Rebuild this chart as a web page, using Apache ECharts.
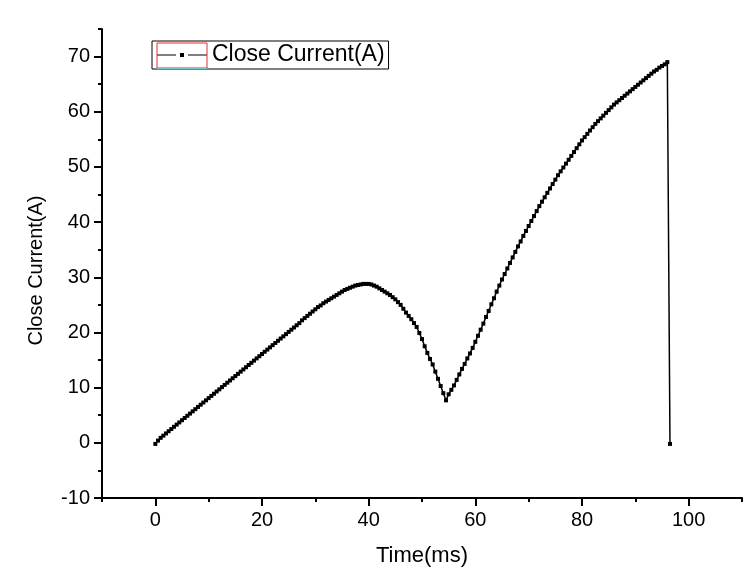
<!DOCTYPE html>
<html>
<head>
<meta charset="utf-8">
<script src="https://cdn.jsdelivr.net/npm/echarts@6/dist/echarts.min.js"></script>
<style>html,body{margin:0;padding:0;background:#fff;}#c{width:754px;height:582px;}</style>
</head>
<body>
<div id="c"></div>
<script>
const seriesName = 'Close Current(A)';
const xTitle = 'Time(ms)';
const yTitle = 'Close Current(A)';
const xLabelValues = [0, 20, 40, 60, 80, 100];
const yLabelValues = [-10, 0, 10, 20, 30, 40, 50, 60, 70];
const timeMs = [
  0,0.5,1,1.5,2,2.5,3,3.5,4,4.5,5,5.5,6,6.5,7,7.5,8,8.5,9,9.5,
  10,10.5,11,11.5,12,12.5,13,13.5,14,14.5,15,15.5,16,16.5,17,17.5,18,18.5,19,19.5,
  20,20.5,21,21.5,22,22.5,23,23.5,24,24.5,25,25.5,26,26.5,27,27.5,28,28.5,29,29.5,
  30,30.5,31,31.5,32,32.5,33,33.5,34,34.5,35,35.5,36,36.5,37,37.5,38,38.5,39,39.5,
  40,40.5,41,41.5,42,42.5,43,43.5,44,44.5,45,45.5,46,46.5,47,47.5,48,48.5,49,49.5,
  50,50.5,51,51.5,52,52.5,53,53.5,54,54.5,55,55.5,56,56.5,57,57.5,58,58.5,59,59.5,
  60,60.5,61,61.5,62,62.5,63,63.5,64,64.5,65,65.5,66,66.5,67,67.5,68,68.5,69,69.5,
  70,70.5,71,71.5,72,72.5,73,73.5,74,74.5,75,75.5,76,76.5,77,77.5,78,78.5,79,79.5,
  80,80.5,81,81.5,82,82.5,83,83.5,84,84.5,85,85.5,86,86.5,87,87.5,88,88.5,89,89.5,
  90,90.5,91,91.5,92,92.5,93,93.5,94,94.5,95,95.5,96,96.5
];
const closeCurrent = [
  -0.2,0.4,0.9,1.3,1.7,2.1,2.5,2.9,3.3,3.7,4.1,4.5,4.9,5.3,5.7,6.1,6.5,6.9,7.3,7.7,
  8.1,8.5,8.9,9.3,9.7,10.1,10.5,10.9,11.3,11.7,12.1,12.5,12.9,13.3,13.7,14.1,14.5,14.9,15.3,15.7,
  16.1,16.5,16.9,17.3,17.7,18.1,18.5,18.9,19.3,19.7,20.1,20.5,20.9,21.3,21.7,22.2,22.6,23.0,23.4,23.8,
  24.2,24.6,24.9,25.3,25.6,25.9,26.2,26.5,26.8,27.1,27.4,27.7,27.9,28.1,28.3,28.5,28.6,28.7,28.8,28.8,
  28.8,28.7,28.5,28.3,28.0,27.7,27.4,27.1,26.8,26.4,26.0,25.5,25.0,24.3,23.6,23.0,22.4,21.7,21.0,19.9,
  18.8,17.5,16.3,15.2,14.2,12.9,11.6,10.3,9.0,7.7,8.8,9.6,10.4,11.4,12.4,13.4,14.3,15.3,16.2,17.2,
  18.3,19.4,20.5,21.6,22.8,23.9,25.1,26.2,27.4,28.5,29.6,30.6,31.6,32.6,33.6,34.6,35.6,36.5,37.5,38.4,
  39.3,40.2,41.1,42.0,42.9,43.7,44.5,45.3,46.1,46.9,47.7,48.5,49.2,49.9,50.6,51.3,52.0,52.7,53.4,54.1,
  54.8,55.4,56.0,56.6,57.2,57.8,58.3,58.8,59.3,59.8,60.3,60.8,61.3,61.7,62.1,62.5,62.9,63.3,63.7,64.1,
  64.5,64.9,65.3,65.7,66.1,66.5,66.9,67.3,67.6,68.0,68.3,68.6,69.0,-0.2
];

const chart = echarts.init(document.getElementById('c'), null, {renderer: 'canvas'});
const font = 'Arial, "Liberation Sans", sans-serif';
const axisBase = {
  type: 'value',
  splitLine: {show: false},
  axisLine: {show: true, onZero: false, lineStyle: {color: '#000', width: 2}}
};
chart.setOption({
  animation: false,
  backgroundColor: '#fff',
  textStyle: {fontFamily: font, color: '#000'},
  grid: {left: 102, right: 12, top: 29, bottom: 84, containLabel: false},
  legend: {
    left: 152, top: 41,
    padding: [2, 4, 2, 5],
    borderColor: '#000', borderWidth: 1, borderRadius: 0,
    itemWidth: 50, itemHeight: 4,
    icon: 'path://M0,1.5H19V2.5H0Z M23,0H27V4H23Z M31,1.5H50V2.5H31Z',
    data: [{name: seriesName, itemStyle: {color: '#000'}}],
    textStyle: {fontFamily: font, fontSize: 23, color: '#000', lineHeight: 24}
  },
  xAxis: [
    Object.assign({}, axisBase, {
      min: -10, max: 110, interval: 10, position: 'bottom',
      name: xTitle, nameLocation: 'middle', nameGap: 47,
      nameTextStyle: {fontFamily: font, fontSize: 22, color: '#000'},
      axisTick: {show: true, inside: false, length: 4, lineStyle: {color: '#000', width: 2}},
      axisLabel: {customValues: xLabelValues, margin: 12, fontFamily: font, fontSize: 20, color: '#000'}
    }),
    Object.assign({}, axisBase, {
      min: -10, max: 110, interval: 10, position: 'bottom',
      axisLine: {show: false, onZero: false},
      axisTick: {show: true, customValues: xLabelValues, inside: false, length: 8, lineStyle: {color: '#000', width: 2}},
      axisLabel: {show: false}
    })
  ],
  yAxis: [
    Object.assign({}, axisBase, {
      min: -10, max: 75, interval: 5, position: 'left',
      name: yTitle, nameLocation: 'middle', nameGap: 56,
      nameTextStyle: {fontFamily: font, fontSize: 20, color: '#000', padding: [0, 14, 0, 0]},
      axisTick: {show: true, inside: false, length: 4, lineStyle: {color: '#000', width: 2}},
      axisLabel: {customValues: yLabelValues, margin: 12, fontFamily: font, fontSize: 20, color: '#000'}
    }),
    Object.assign({}, axisBase, {
      min: -10, max: 75, interval: 5, position: 'left',
      axisLine: {show: false, onZero: false},
      axisTick: {show: true, customValues: yLabelValues, inside: false, length: 8, lineStyle: {color: '#000', width: 2}},
      axisLabel: {show: false}
    })
  ],
  graphic: [
    {type: 'rect', shape: {x: 157, y: 43, width: 50, height: 25}, style: {fill: 'none', stroke: '#e03030', lineWidth: 1}, z: 200},
    {type: 'line', shape: {x1: 157, y1: 68.5, x2: 207, y2: 68.5}, style: {stroke: '#30e0e0', lineWidth: 1}, z: 200}
  ],
  series: [{
    name: seriesName,
    type: 'line',
    xAxisIndex: 0, yAxisIndex: 0,
    data: timeMs.map((t, i) => [t, closeCurrent[i]]),
    symbol: 'rect', symbolSize: 4,
    showSymbol: true,
    itemStyle: {color: '#000'},
    lineStyle: {color: '#000', width: 1.5},
    smooth: false
  }]
});
</script>
</body>
</html>
